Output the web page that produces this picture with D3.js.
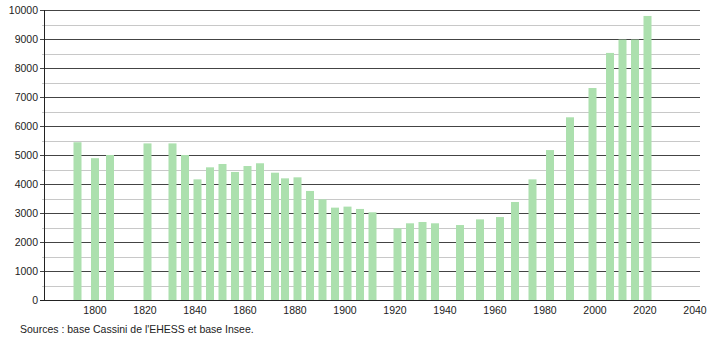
<!DOCTYPE html>
<html>
<head>
<meta charset="utf-8">
<script src="https://cdn.jsdelivr.net/npm/d3@7"></script>
<style>
  body { margin: 0; background: #fff; }
  text { font-family: "Liberation Sans", Arial, sans-serif; fill: #222; }
</style>
</head>
<body>
<svg id="chart" width="710" height="340"></svg>
<script>
// census years and population
const years = [1793, 1800, 1806, 1821, 1831, 1836, 1841, 1846, 1851, 1856, 1861, 1866, 1872, 1876, 1881,
               1886, 1891, 1896, 1901, 1906, 1911, 1921, 1926, 1931, 1936, 1946, 1954, 1962, 1968, 1975,
               1982, 1990, 1999, 2006, 2011, 2016, 2021];
const population = [5440, 4890, 5000, 5400, 5400, 5000, 4160, 4575, 4690, 4415, 4620, 4715, 4390, 4195, 4230,
                    3760, 3470, 3185, 3220, 3140, 3025, 2470, 2645, 2690, 2645, 2585, 2780, 2860, 3380, 4160,
                    5170, 6300, 7310, 8520, 8980, 8980, 9795];
const xTicks = [1800, 1820, 1840, 1860, 1880, 1900, 1920, 1940, 1960, 1980, 2000, 2020, 2040];
const yTicks = [0, 1000, 2000, 3000, 4000, 5000, 6000, 7000, 8000, 9000, 10000];
const sourceText = "Sources : base Cassini de l'EHESS et base Insee.";

const margin = { top: 10, right: 10, bottom: 40, left: 44 },
      width = 710 - margin.left - margin.right,
      height = 340 - margin.top - margin.bottom;

const svg = d3.select("#chart")
  .append("g")
  .attr("transform", `translate(${margin.left}, ${margin.top})`);

const x = d3.scaleLinear().domain([1779.6, 2042]).range([0, width]);
const y = d3.scaleLinear().domain([0, 10000]).range([height, 0]);

// minor gridlines (every 500)
const minor = d3.range(500, 10000, 1000);
svg.append("g").selectAll("line").data(minor).enter().append("line")
  .attr("x1", -2).attr("x2", width)
  .attr("y1", d => Math.round(y(d)) + 0.5).attr("y2", d => Math.round(y(d)) + 0.5)
  .attr("stroke", "#c8c8c8");

// major gridlines
svg.append("g").selectAll("line").data(yTicks.slice(1)).enter().append("line")
  .attr("x1", -4).attr("x2", width)
  .attr("y1", d => Math.round(y(d)) + 0.5).attr("y2", d => Math.round(y(d)) + 0.5)
  .attr("stroke", "#444");

// bars
const barW = 8;
svg.append("g").selectAll("rect").data(years).enter().append("rect")
  .attr("x", d => x(d) - barW / 2)
  .attr("y", (d, i) => y(population[i]))
  .attr("width", barW)
  .attr("height", (d, i) => height - y(population[i]))
  .attr("fill", "#ace0ae");

// axes lines
svg.append("line")
  .attr("x1", 0.5).attr("x2", 0.5).attr("y1", 0).attr("y2", height)
  .attr("stroke", "#222");
svg.append("line")
  .attr("x1", -4).attr("x2", width).attr("y1", height + 0.5).attr("y2", height + 0.5)
  .attr("stroke", "#222");

// y labels
svg.append("g").selectAll("text").data(yTicks).enter().append("text")
  .attr("x", -6)
  .attr("y", d => y(d))
  .attr("dy", "0.35em")
  .attr("text-anchor", "end")
  .style("font-size", "10.5px")
  .text(d => d);

// x labels
svg.append("g").selectAll("text").data(xTicks).enter().append("text")
  .attr("x", d => x(d))
  .attr("y", height + 14)
  .attr("text-anchor", "middle")
  .style("font-size", "10.5px")
  .text(d => d);

svg.append("text")
  .attr("x", 20 - margin.left)
  .attr("y", height + 33)
  .style("font-size", "10.5px")
  .text(sourceText);
</script>
</body>
</html>
